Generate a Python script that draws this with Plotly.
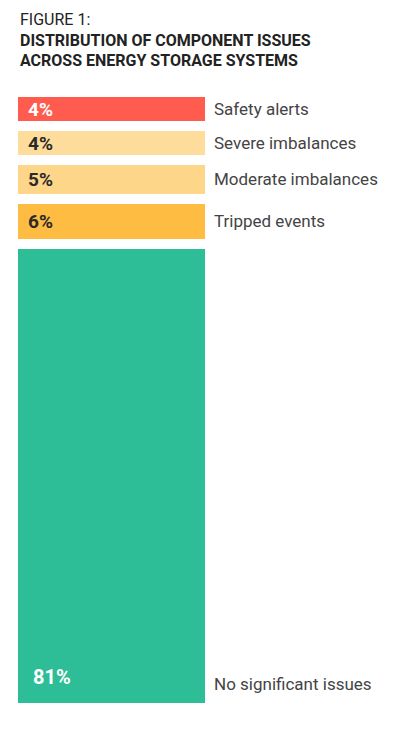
import plotly.graph_objects as go

categories = ["Safety alerts", "Severe imbalances", "Moderate imbalances", "Tripped events", "No significant issues"]
# shares as drawn (bar heights); the printed labels are rounded
values = [4.24, 4.24, 5.12, 6.18, 80.22]
pct_labels = ["4%", "4%", "5%", "6%", "81%"]
colors = ["#FF5B4E", "#FEDD9C", "#FED68A", "#FEBD42", "#2DBD97"]
pct_colors = ["#FFFFFF", "#2A2A2A", "#2A2A2A", "#2A2A2A", "#FFFFFF"]

GAP = 1.767  # visual gap between segments, in data units
FONT = "Roboto"

fig = go.Figure()
annotations = []
start = 0.0
for i, (cat, v) in enumerate(zip(categories, values)):
    fig.add_trace(go.Bar(
        x=[0], y=[v], base=[start], width=1,
        marker=dict(color=colors[i], line=dict(width=0)),
        hoverinfo="skip", showlegend=False,
    ))
    end = start + v
    last = i == len(values) - 1
    mid = (start + end) / 2
    annotations.append(dict(
        x=-0.43 if last else -0.455, y=end if last else mid, xref="x", yref="y",
        text=f"<b>{pct_labels[i]}</b>", showarrow=False,
        xanchor="left", yanchor="middle", yshift=26 if last else 0,
        font=dict(family=FONT, size=20 if last else 19, color=pct_colors[i]),
    ))
    annotations.append(dict(
        x=0.538, y=end if last else mid, xref="x", yref="y",
        text=cat, showarrow=False,
        xanchor="left", yanchor="middle", yshift=19 if last else 0,
        font=dict(family=FONT, size=17, color="#444444"),
    ))
    start = end + GAP

total = start - GAP

annotations += [
    dict(x=0, y=1 + 77.5 / 606, xref="paper", yref="paper", text="FIGURE 1:",
         showarrow=False, xanchor="left", yanchor="middle",
         font=dict(family=FONT, size=16, color="#222222")),
    dict(x=0, y=1 + 56 / 606, xref="paper", yref="paper",
         text="<b>DISTRIBUTION OF COMPONENT ISSUES</b>",
         showarrow=False, xanchor="left", yanchor="middle",
         font=dict(family=FONT, size=16, color="#222222")),
    dict(x=0, y=1 + 37 / 606, xref="paper", yref="paper",
         text="<b>ACROSS ENERGY STORAGE SYSTEMS</b>",
         showarrow=False, xanchor="left", yanchor="middle",
         font=dict(family=FONT, size=16, color="#222222")),
]

fig.update_layout(
    width=385, height=723,
    margin=dict(l=10, r=0, t=89, b=28),
    paper_bgcolor="white", plot_bgcolor="white",
    barmode="overlay",
    xaxis=dict(range=[-0.5, 1.505], visible=False, fixedrange=True),
    yaxis=dict(range=[total, 0], visible=False, fixedrange=True),
    annotations=annotations,
)

fig.write_html("out.html", config={"displayModeBar": False})
